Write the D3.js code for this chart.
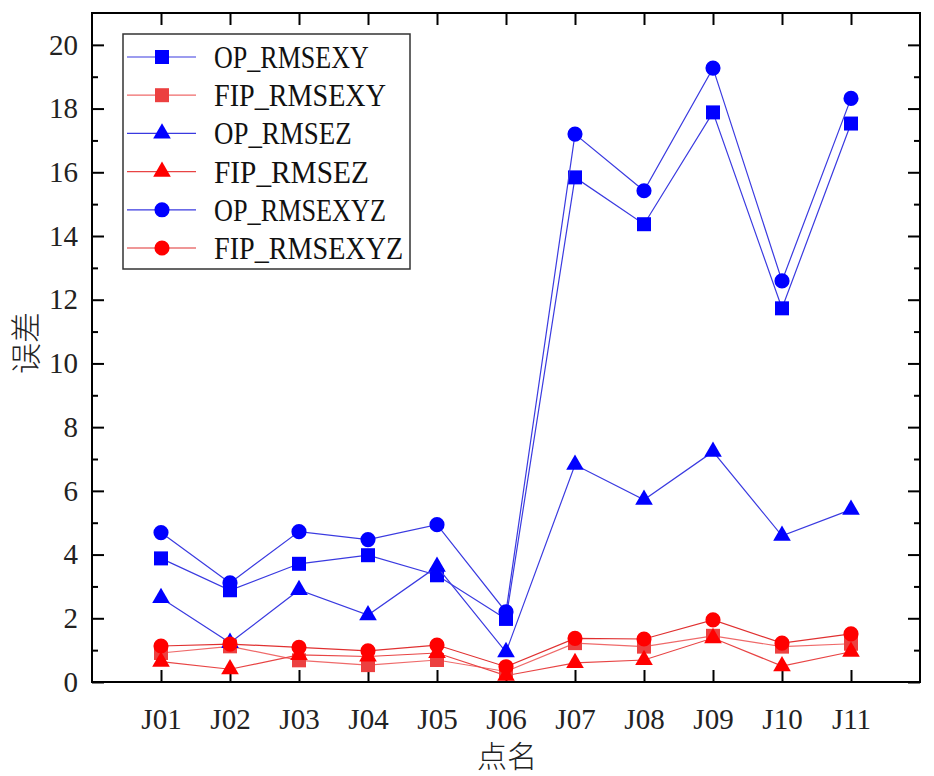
<!DOCTYPE html>
<html><head><meta charset="utf-8">
<style>
body { margin: 0; background: #fff; }
.tick text { font-family: "Liberation Serif", serif; }
</style>
</head><body>
<svg width="934" height="776"></svg>
<script src="https://d3js.org/d3.v7.min.js"></script>
<script>

var points = ["J01", "J02", "J03", "J04", "J05", "J06", "J07", "J08", "J09", "J10", "J11"];

var opXY   = [3.88, 2.88, 3.71, 3.98, 3.35, 1.98, 15.84, 14.37, 17.88, 11.73, 17.53];
var fipXY  = [0.91, 1.12, 0.68, 0.53, 0.69, 0.33, 1.22, 1.11, 1.45, 1.11, 1.2];
var opZ    = [2.64, 1.23, 2.89, 2.10, 3.62, 0.94, 6.82, 5.72, 7.23, 4.59, 5.41];
var fipZ   = [0.64, 0.40, 0.85, 0.80, 0.91, 0.20, 0.60, 0.69, 1.38, 0.50, 0.95];
var opXYZ  = [4.69, 3.11, 4.72, 4.47, 4.94, 2.20, 17.20, 15.42, 19.27, 12.59, 18.32];
var fipXYZ = [1.13, 1.19, 1.09, 0.98, 1.16, 0.48, 1.37, 1.35, 1.95, 1.22, 1.51];

var yTicks = [0, 2, 4, 6, 8, 10, 12, 14, 16, 18, 20];

var series = [
  {name: "OP_RMSEXY",   values: opXY,   color: "#0000ff", line: "#3a3ae0", shape: d3.symbolSquare,   size: 196},
  {name: "FIP_RMSEXY",  values: fipXY,  color: "#ec4040", line: "#ef6a6a", shape: d3.symbolSquare,   size: 196},
  {name: "OP_RMSEZ",    values: opZ,    color: "#0000ff", line: "#3a3ae0", shape: d3.symbolTriangle, size: 135},
  {name: "FIP_RMSEZ",   values: fipZ,   color: "#ff0000", line: "#e84444", shape: d3.symbolTriangle, size: 135},
  {name: "OP_RMSEXYZ",  values: opXYZ,  color: "#0000ff", line: "#3a3ae0", shape: d3.symbolCircle,   size: 180},
  {name: "FIP_RMSEXYZ", values: fipXYZ, color: "#ff0000", line: "#e03030", shape: d3.symbolCircle,   size: 180}
];

var svg = d3.select("svg"),
    pl = 92, pr = 920, pt = 13, pb = 682;

var x = d3.scalePoint().domain(points).range([pl, pr]).padding(1);
var y = d3.scaleLinear().domain([0, 21]).range([pb, pt]);

var minor = d3.range(1, 21, 2);

// axes, ticks pointing inward
svg.append("g")
    .attr("transform", "translate(" + pl + ",0)")
    .call(d3.axisLeft(y).tickValues(yTicks).tickSize(-12).tickPadding(14).tickFormat(d3.format("d")))
    .call(function(g) {
      g.select(".domain").remove();
      g.selectAll(".tick text").attr("font-size", 29).attr("fill", "#222");
    });

svg.append("g")
    .attr("transform", "translate(" + pl + ",0)")
    .call(d3.axisLeft(y).tickValues(minor).tickSize(-6).tickFormat(""))
    .call(function(g) { g.select(".domain").remove(); });

svg.append("g")
    .attr("transform", "translate(" + pr + ",0)")
    .call(d3.axisRight(y).tickValues(yTicks).tickSize(-12).tickFormat(""))
    .call(function(g) { g.select(".domain").remove(); });

svg.append("g")
    .attr("transform", "translate(" + pr + ",0)")
    .call(d3.axisRight(y).tickValues(minor).tickSize(-6).tickFormat(""))
    .call(function(g) { g.select(".domain").remove(); });

svg.append("g")
    .attr("transform", "translate(0," + pb + ")")
    .call(d3.axisBottom(x).tickSize(-12).tickPadding(26))
    .call(function(g) {
      g.select(".domain").remove();
      g.selectAll(".tick text").attr("font-size", 29).attr("fill", "#222");
    });

svg.append("g")
    .attr("transform", "translate(0," + pt + ")")
    .call(d3.axisTop(x).tickSize(-12).tickFormat(""))
    .call(function(g) { g.select(".domain").remove(); });

svg.selectAll(".tick line").attr("stroke", "#000").attr("stroke-width", 2);

svg.append("rect")
    .attr("x", pl).attr("y", pt)
    .attr("width", pr - pl).attr("height", pb - pt)
    .attr("fill", "none").attr("stroke", "#000").attr("stroke-width", 2);

// series
var line = d3.line()
    .x(function(d, i) { return x(points[i]); })
    .y(function(d) { return y(d); });

series.forEach(function(s) {
  svg.append("path")
      .attr("d", line(s.values))
      .attr("fill", "none")
      .attr("stroke", s.line)
      .attr("stroke-width", 1.2);

  svg.append("g").selectAll("path")
    .data(s.values)
    .enter().append("path")
      .attr("transform", function(d, i) { return "translate(" + x(points[i]) + "," + y(d) + ")"; })
      .attr("d", d3.symbol().type(s.shape).size(s.size))
      .attr("fill", s.color);
});

// legend
var lg = svg.append("g");
lg.append("rect")
    .attr("x", 123).attr("y", 34).attr("width", 287).attr("height", 235)
    .attr("fill", "#fff").attr("stroke", "#333").attr("stroke-width", 1.5);

series.forEach(function(s, i) {
  var cy = 57 + i * 38.2;
  lg.append("line")
      .attr("x1", 127).attr("x2", 196).attr("y1", cy).attr("y2", cy)
      .attr("stroke", s.line).attr("stroke-width", 1.2);
  lg.append("path")
      .attr("transform", "translate(162," + cy + ")")
      .attr("d", d3.symbol().type(s.shape).size(s.size))
      .attr("fill", s.color);
  lg.append("text")
      .attr("x", 214).attr("y", cy + 11)
      .attr("font-family", "Liberation Serif, serif")
      .attr("font-size", 32)
      .attr("fill", "#111")
      .attr("textLength", s.name.length * 17.2)
      .attr("lengthAdjust", "spacingAndGlyphs")
      .text(s.name);
});

// titles
svg.append("text")
    .attr("x", 507).attr("y", 767)
    .attr("text-anchor", "middle")
    .attr("font-family", "Noto Sans CJK SC")
    .attr("font-weight", 300)
    .attr("font-size", 30)
    .attr("fill", "#222")
    .text("点名");

svg.append("text")
    .attr("transform", "translate(37,343) rotate(-90)")
    .attr("text-anchor", "middle")
    .attr("font-family", "Noto Sans CJK SC")
    .attr("font-weight", 300)
    .attr("font-size", 31)
    .attr("fill", "#222")
    .text("误差");

</script>
</body></html>
